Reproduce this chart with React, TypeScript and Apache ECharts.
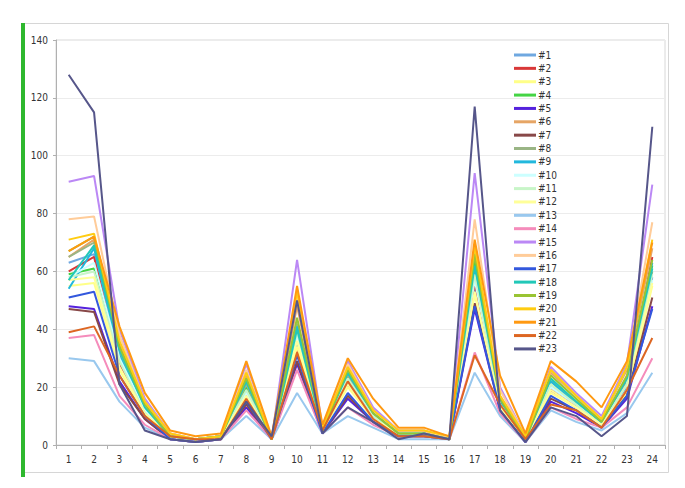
import React, { useEffect, useRef } from "react";
import * as echarts from "echarts";

const categories = ["1","2","3","4","5","6","7","8","9","10","11","12","13","14","15","16","17","18","19","20","21","22","23","24"];

const seriesNames = ["#1","#2","#3","#4","#5","#6","#7","#8","#9","#10","#11","#12","#13","#14","#15","#16","#17","#18","#19","#20","#21","#22","#23"];

const seriesColors = ["#6fa8e0","#d93838","#ffff88","#44d444","#5522dd","#e6a565","#884848","#9ab585","#22b8dd","#ccffff","#c8f5c8","#ffff99","#99c8ee","#f58cbb","#bb88f5","#ffcc99","#3358dd","#22c8b8","#99c433","#ffcc11","#ff9911","#dd6622","#56568a"];

const s1 = [63, 66, 30, 12, 3, 2, 3, 18, 2, 35, 5, 22, 10, 4, 4, 2, 55, 14, 2, 20, 14, 7, 20, 58];
const s2 = [60, 65, 28, 11, 3, 2, 3, 17, 2, 33, 5, 21, 9, 4, 4, 2, 56, 14, 2, 19, 13, 7, 19, 65];
const s3 = [55, 56, 26, 10, 3, 2, 3, 16, 2, 34, 5, 20, 9, 3, 4, 2, 52, 13, 2, 18, 13, 7, 18, 55];
const s4 = [59, 61, 30, 12, 3, 2, 3, 20, 2, 40, 5, 24, 10, 4, 4, 2, 64, 15, 2, 22, 14, 8, 22, 62];
const s5 = [48, 47, 22, 9, 2, 1, 2, 13, 2, 28, 4, 16, 8, 3, 3, 2, 47, 12, 1, 15, 11, 6, 16, 48];
const s6 = [65, 71, 35, 15, 4, 2, 3, 24, 2, 48, 6, 27, 12, 5, 5, 2, 67, 17, 3, 25, 17, 9, 26, 68];
const s7 = [47, 46, 21, 9, 2, 1, 2, 14, 2, 29, 4, 17, 8, 3, 3, 2, 49, 12, 2, 16, 12, 6, 17, 51];
const s8 = [65, 70, 32, 13, 3, 2, 3, 21, 2, 42, 5, 24, 11, 4, 4, 2, 60, 15, 2, 22, 15, 8, 22, 60];
const s9 = [54, 68, 31, 12, 3, 2, 3, 22, 2, 41, 5, 25, 10, 4, 4, 2, 61, 15, 2, 22, 14, 8, 23, 63];
const s10 = [58, 63, 30, 12, 3, 2, 3, 18, 2, 38, 5, 22, 10, 4, 4, 2, 57, 14, 2, 20, 14, 7, 21, 57];
const s11 = [58, 60, 29, 11, 3, 2, 3, 19, 2, 39, 5, 23, 10, 4, 4, 2, 59, 14, 2, 21, 14, 7, 21, 59];
const s12 = [57, 58, 27, 11, 3, 2, 3, 17, 2, 36, 5, 21, 9, 4, 4, 2, 53, 13, 2, 19, 13, 7, 19, 56];
const s13 = [30, 29, 15, 6, 2, 1, 2, 10, 2, 18, 4, 10, 6, 2, 2, 2, 25, 10, 1, 12, 8, 5, 11, 25];
const s14 = [37, 38, 17, 7, 2, 1, 2, 12, 2, 26, 4, 13, 7, 3, 3, 2, 32, 11, 1, 13, 9, 6, 13, 30];
const s15 = [91, 93, 40, 16, 4, 2, 3, 28, 2, 64, 6, 29, 13, 5, 5, 2, 94, 20, 3, 27, 18, 10, 28, 90];
const s16 = [78, 79, 38, 15, 4, 2, 3, 26, 2, 52, 6, 28, 12, 5, 5, 2, 78, 19, 3, 26, 17, 9, 27, 77];
const s17 = [51, 53, 24, 10, 2, 1, 2, 15, 2, 31, 4, 18, 8, 3, 3, 2, 48, 12, 1, 17, 12, 6, 17, 47];
const s18 = [57, 69, 33, 13, 3, 2, 3, 22, 2, 40, 5, 25, 11, 4, 4, 2, 62, 16, 2, 23, 15, 8, 23, 61];
const s19 = [67, 72, 34, 14, 3, 2, 3, 23, 2, 44, 5, 26, 11, 4, 4, 2, 66, 16, 2, 24, 16, 8, 24, 64];
const s20 = [71, 73, 36, 15, 4, 2, 3, 25, 2, 53, 6, 27, 12, 5, 5, 3, 69, 17, 3, 26, 17, 9, 27, 71];
const s21 = [67, 72, 41, 18, 5, 3, 4, 29, 3, 55, 7, 30, 16, 6, 6, 3, 71, 24, 4, 29, 22, 13, 29, 70];
const s22 = [39, 41, 24, 10, 3, 2, 2, 16, 2, 32, 5, 22, 9, 3, 3, 2, 31, 14, 2, 14, 12, 6, 19, 37];
const s23 = [128, 115, 21, 5, 2, 1, 2, 15, 3, 50, 4, 13, 8, 2, 4, 2, 117, 12, 1, 13, 10, 3, 10, 110];

const seriesValues = [s1, s2, s3, s4, s5, s6, s7, s8, s9, s10, s11, s12, s13, s14, s15, s16, s17, s18, s19, s20, s21, s22, s23];

const yTicks = { min: 0, max: 140, interval: 20 };

const FONT = "'DejaVu Sans Condensed', 'DejaVu Sans', Verdana, sans-serif";

export default function App() {
  const ref = useRef<HTMLDivElement>(null);
  useEffect(() => {
    document.body.style.margin = "0";
    if (!ref.current) return;
    const chart = echarts.init(ref.current, null, { renderer: "svg" });
    chart.setOption({
      animation: false,
      backgroundColor: "#ffffff",
      grid: { left: 56, right: 20, top: 40, bottom: 43, show: true, borderColor: "#d8d8d8", borderWidth: 1, containLabel: false },
      graphic: [
        { type: "rect", shape: { x: 22.5, y: 23.5, width: 646, height: 449 }, style: { fill: "none", stroke: "#d6d6d6", lineWidth: 1 }, silent: true },
        { type: "rect", shape: { x: 21, y: 23, width: 4, height: 454 }, style: { fill: "#2eb82e" }, silent: true },
      ],
      legend: {
        orient: "vertical",
        left: 514,
        top: 50,
        itemWidth: 22,
        itemHeight: 3,
        itemGap: 3.36,
        icon: "rect",
        padding: 0,
        textStyle: { fontFamily: FONT, fontSize: 10, lineHeight: 10, color: "#333", padding: [0, 0, 0, -3] },
        data: seriesNames,
      },
      xAxis: {
        type: "category",
        data: categories,
        boundaryGap: true,
        axisLine: { lineStyle: { color: "#b0b0b0" } },
        axisTick: { show: true, length: 4, lineStyle: { color: "#b0b0b0" } },
        axisLabel: { fontFamily: FONT, fontSize: 10, color: "#333", margin: 9 },
        splitLine: { show: false },
      },
      yAxis: {
        type: "value",
        min: yTicks.min,
        max: yTicks.max,
        interval: yTicks.interval,
        axisLine: { show: true, lineStyle: { color: "#b0b0b0" } },
        axisTick: { show: true, length: 3, lineStyle: { color: "#b0b0b0" } },
        axisLabel: { fontFamily: FONT, fontSize: 10, color: "#333", margin: 8 },
        splitLine: { show: true, lineStyle: { color: "#ececec" } },
      },
      series: seriesNames.map((name, i) => ({
        name,
        type: "line",
        data: seriesValues[i],
        symbol: "none",
        lineStyle: { width: 2, color: seriesColors[i] },
        itemStyle: { color: seriesColors[i] },
      })),
    });
    return () => chart.dispose();
  }, []);
  return <div ref={ref} style={{ position: "fixed", left: 0, top: 0, width: 685, height: 488 }} />;
}
